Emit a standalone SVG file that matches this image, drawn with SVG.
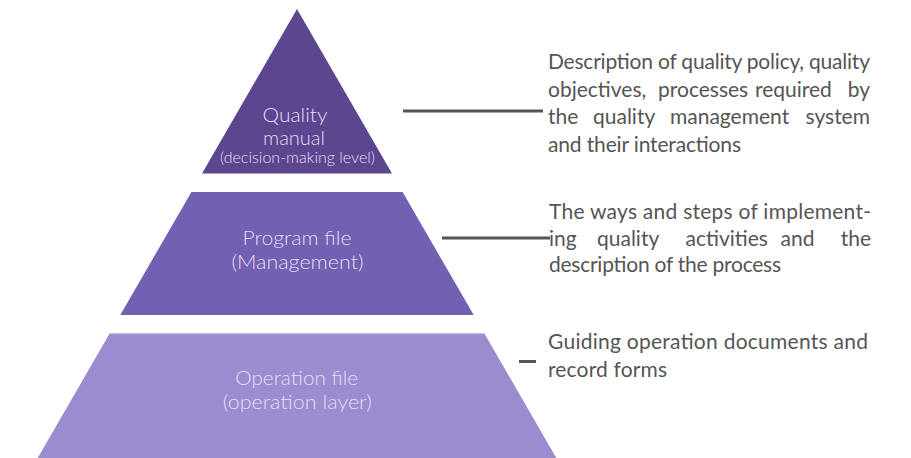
<svg xmlns="http://www.w3.org/2000/svg" width="911" height="458" viewBox="0 0 911 458">
  <style>
    .lvl { font-family: Lato, "Liberation Sans", sans-serif; fill: #e4ddf5; text-anchor: middle; font-weight: 300; }
    .big { font-size: 20px; }
    .small { font-size: 15px; }
    .desc { font-family: Lato, "Liberation Sans", sans-serif; font-size: 21px; fill: #555555; }
    .conn { stroke: #555555; stroke-width: 3; fill: none; }
  </style>
  <rect width="911" height="458" fill="#ffffff"/>

  <g id="quality-manual">
    <polygon points="297,9 392,173.5 202,173.5" fill="#5b468f"/>
    <text class="lvl big" x="295" y="122" textLength="65" lengthAdjust="spacingAndGlyphs">Quality</text>
    <text class="lvl big" x="294" y="145" textLength="62" lengthAdjust="spacingAndGlyphs">manual</text>
    <text class="lvl small" x="297.5" y="163" textLength="155" lengthAdjust="spacingAndGlyphs">(decision-making level)</text>
  </g>

  <g id="program-file">
    <polygon points="191.4,192 402.6,192 473.7,315 120.3,315" fill="#7360b3"/>
    <text class="lvl big" x="297" y="244.5" textLength="109" lengthAdjust="spacingAndGlyphs">Program file</text>
    <text class="lvl big" x="297.5" y="268.5" textLength="132" lengthAdjust="spacingAndGlyphs">(Management)</text>
  </g>

  <g id="operation-file">
    <polygon points="109.6,333.5 484.4,333.5 556.3,458 37.7,458" fill="#9b8ccf"/>
    <line x1="109.6" y1="334" x2="484.4" y2="334" stroke="#b3a8dc" stroke-width="1"/>
    <text class="lvl big" x="296.7" y="385" textLength="123" lengthAdjust="spacingAndGlyphs">Operation file</text>
    <text class="lvl big" x="297.3" y="408.5" textLength="149" lengthAdjust="spacingAndGlyphs">(operation layer)</text>
  </g>

  <g id="connectors">
    <line class="conn" x1="403" y1="111" x2="543" y2="111"/>
    <line class="conn" x1="442" y1="238" x2="550" y2="238"/>
    <line class="conn" x1="519" y1="361.5" x2="536" y2="361.5"/>
  </g>

  <g id="desc-quality-manual">
    <text class="desc" x="548" y="69" textLength="322" lengthAdjust="spacing">Description of quality policy, quality</text>
    <text class="desc" y="96.5"><tspan x="548">objectives,</tspan><tspan x="658">processes</tspan><tspan x="755">required</tspan><tspan x="870" text-anchor="end">by</tspan></text>
    <text class="desc" y="124"><tspan x="548">the</tspan><tspan x="593">quality</tspan><tspan x="670">management</tspan><tspan x="870" text-anchor="end">system</tspan></text>
    <text class="desc" x="548" y="151.5" textLength="193" lengthAdjust="spacing">and their interactions</text>
  </g>

  <g id="desc-program-file">
    <text class="desc" x="549" y="218.5" textLength="322" lengthAdjust="spacing">The ways and steps of implement-</text>
    <text class="desc" y="245.5"><tspan x="549">ing</tspan><tspan x="597">quality</tspan><tspan x="685.5">activities</tspan><tspan x="780.5">and</tspan><tspan x="871" text-anchor="end">the</tspan></text>
    <text class="desc" x="549" y="272" textLength="232" lengthAdjust="spacing">description of the process</text>
  </g>

  <g id="desc-operation-file">
    <text class="desc" x="548" y="348.5" textLength="320" lengthAdjust="spacing">Guiding operation documents and</text>
    <text class="desc" x="548" y="377" textLength="119" lengthAdjust="spacing">record forms</text>
  </g>
</svg>
